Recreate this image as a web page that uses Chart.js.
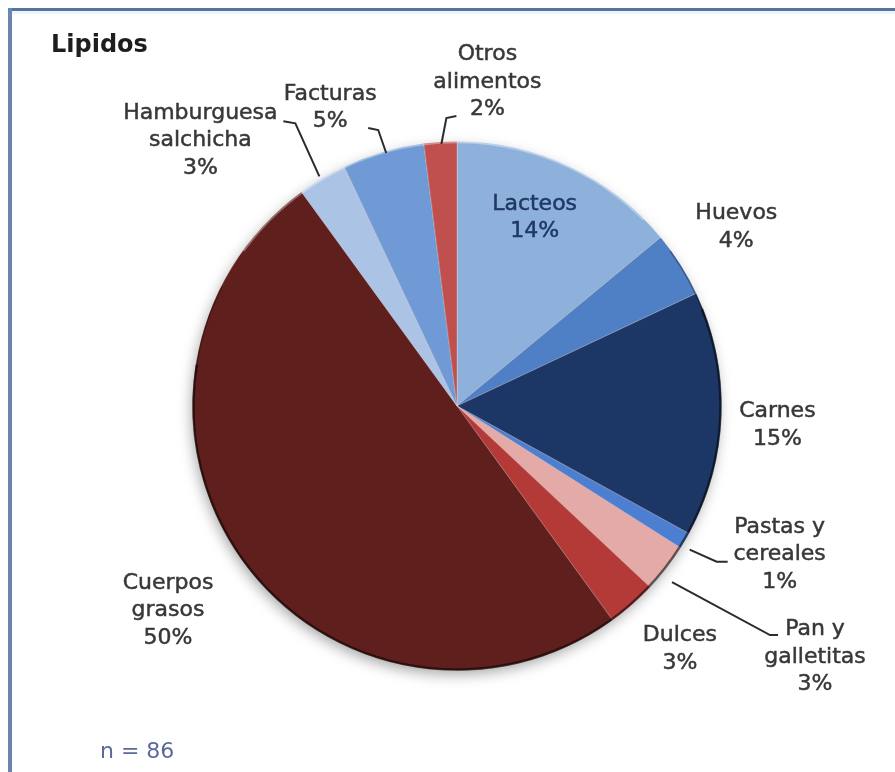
<!DOCTYPE html>
<html>
<head>
<meta charset="utf-8">
<script src="https://cdn.jsdelivr.net/npm/chart.js@4.4.1/dist/chart.umd.min.js"></script>
<style>
  html, body { margin: 0; padding: 0; background: #ffffff; }
  #wrap { position: relative; width: 895px; height: 772px; }
</style>
</head>
<body>
<div id="wrap"><canvas id="c" width="895" height="772"></canvas></div>
<script>
// ---- data ----
const categories = [
  ['Lacteos'], ['Huevos'], ['Carnes'], ['Pastas y', 'cereales'], ['Pan y', 'galletitas'],
  ['Dulces'], ['Cuerpos', 'grasos'], ['Hamburguesa', 'salchicha'], ['Facturas'], ['Otros', 'alimentos']
];
const values = [14, 4, 15, 1, 3, 3, 50, 3, 5, 2];
const titleText = 'Lipidos';
const sampleText = 'n = 86';

// ---- styles ----
const sliceColors = ['#8EB1DC', '#4F7FC4', '#1C3766', '#4D7FD0', '#E3AAA8',
                     '#B33A36', '#5F1F1D', '#ABC4E6', '#6F9AD6', '#C0504D'];
// label placement relative to the arc's outer mid point
const labelLayout = [
  { dx: -35, dy: 51, color: '#1F3864' },
  { dx: 56, dy: -37 },
  { dx: 56, dy: 11 },
  { start: [5, 9], elbow: [32, 21], end: [43, 21], dx: 95, dy: 14 },
  { start: [6, 14], elbow: [104, 67], end: [112, 67], dx: 149, dy: 89 },
  { dx: 48, dy: 45 },
  { dx: -75, dy: 49 },
  { start: [-3, -2], elbow: [-27, -55], end: [-39, -57], dx: -122, dy: -38 },
  { start: [3, 1], elbow: [-5, -22], end: [-15, -24], dx: -53, dy: -44 },
  { start: [1, 2], elbow: [6, -24], end: [16, -26], dx: 47, dy: -60 }
];
const FONT = '"DejaVu Sans", Verdana, sans-serif';

const framePlugin = {
  id: 'frame',
  beforeDraw(chart) {
    const ctx = chart.ctx;
    ctx.save();
    ctx.fillStyle = '#ffffff';
    ctx.fillRect(0, 0, chart.width, chart.height);
    ctx.fillStyle = '#E9F6FB';
    ctx.fillRect(12, 11, chart.width - 12, 3);
    ctx.fillStyle = '#56749C';
    ctx.fillRect(8, 8, chart.width - 8, 3);
    ctx.fillStyle = '#6A86AD';
    ctx.fillRect(8, 8, 4, chart.height - 8);
    ctx.restore();
  }
};

function strokeArc(ctx, arc, a0, a1, color, width) {
  ctx.strokeStyle = color;
  ctx.lineWidth = width;
  ctx.beginPath();
  ctx.arc(arc.x, arc.y, arc.outerRadius - 1, a0 * Math.PI, a1 * Math.PI);
  ctx.stroke();
}

const shadowPlugin = {
  id: 'pieShadow',
  beforeDatasetsDraw(chart) {
    const arc = chart.getDatasetMeta(0).data[0];
    if (!arc) return;
    const ctx = chart.ctx;
    ctx.save();
    ctx.shadowColor = 'rgba(0,0,0,0.35)';
    ctx.shadowBlur = 14;
    ctx.shadowOffsetX = -2;
    ctx.shadowOffsetY = 5;
    ctx.fillStyle = '#5F1F1D';
    ctx.beginPath();
    ctx.arc(arc.x, arc.y, arc.outerRadius - 1, 0, Math.PI * 2);
    ctx.fill();
    ctx.restore();
  },
  afterDatasetsDraw(chart) {
    const arc = chart.getDatasetMeta(0).data[0];
    if (!arc) return;
    const ctx = chart.ctx;
    ctx.save();
    strokeArc(ctx, arc, -0.12, 1.05, 'rgba(0,0,0,0.55)', 2.5);
    strokeArc(ctx, arc, -0.2, -0.11, 'rgba(0,0,0,0.3)', 1.5);
    strokeArc(ctx, arc, 1.04, 1.15, 'rgba(0,0,0,0.3)', 1.5);
    strokeArc(ctx, arc, 1.2, 1.75, 'rgba(255,255,255,0.35)', 1.5);
    ctx.restore();
  }
};

const labelPlugin = {
  id: 'sliceLabels',
  afterDatasetsDraw(chart) {
    const ctx = chart.ctx;
    const meta = chart.getDatasetMeta(0);
    const total = values.reduce((a, b) => a + b, 0);
    ctx.save();
    ctx.font = '22px ' + FONT;
    ctx.textAlign = 'center';
    ctx.textBaseline = 'middle';
    const lh = 27.5;
    meta.data.forEach((el, i) => {
      const mid = (el.startAngle + el.endAngle) / 2;
      const ax = el.x + el.outerRadius * Math.cos(mid);
      const ay = el.y + el.outerRadius * Math.sin(mid);
      const L = labelLayout[i];
      if (L.start) {
        ctx.strokeStyle = '#2b2b2b';
        ctx.lineWidth = 2;
        ctx.beginPath();
        ctx.moveTo(ax + L.start[0], ay + L.start[1]);
        ctx.lineTo(ax + L.elbow[0], ay + L.elbow[1]);
        ctx.lineTo(ax + L.end[0], ay + L.end[1]);
        ctx.stroke();
      }
      const lines = categories[i].concat([Math.round(values[i] / total * 100) + '%']);
      const cx = ax + L.dx, cy = ay + L.dy;
      const y0 = cy - (lines.length - 1) * lh / 2;
      ctx.fillStyle = L.color || '#383838';
      ctx.strokeStyle = L.color || '#383838';
      ctx.lineWidth = 0.5;
      lines.forEach((t, k) => {
        ctx.fillText(t, cx, y0 + k * lh);
        ctx.strokeText(t, cx, y0 + k * lh);
      });
    });
    ctx.restore();
  },
  afterDraw(chart) {
    const ctx = chart.ctx;
    ctx.save();
    ctx.textAlign = 'left';
    ctx.textBaseline = 'alphabetic';
    ctx.fillStyle = '#1e1e1e';
    ctx.font = 'bold 24px ' + FONT;
    ctx.fillText(titleText, 51, 52);
    ctx.fillStyle = '#5A6A9C';
    ctx.font = '22px ' + FONT;
    ctx.fillText(sampleText, 100, 758);
    ctx.restore();
  }
};

new Chart(document.getElementById('c'), {
  type: 'pie',
  data: {
    labels: categories.map(c => c.join(' ')),
    datasets: [{
      data: values,
      backgroundColor: sliceColors,
      borderColor: 'rgba(255,255,255,0.25)',
      borderWidth: 1
    }]
  },
  options: {
    responsive: false,
    animation: false,
    layout: { padding: { left: 192, right: 173, top: 141, bottom: 101 } },
    plugins: { legend: { display: false }, tooltip: { enabled: false }, title: { display: false } }
  },
  plugins: [framePlugin, shadowPlugin, labelPlugin]
});
</script>
</body>
</html>
